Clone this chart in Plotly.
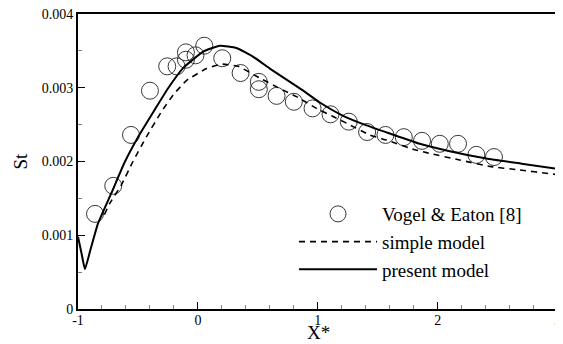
import plotly.graph_objects as go

# Experimental data (Vogel & Eaton [8])
exp_x = [-0.858, -0.706, -0.558, -0.40, -0.256, -0.178, -0.10, -0.10, -0.02, 0.053, 0.203,
         0.356, 0.508, 0.508, 0.656, 0.80, 0.956, 1.106, 1.258, 1.411, 1.564, 1.717,
         1.869, 2.017, 2.169, 2.322, 2.469]
exp_st = [0.00129, 0.00167, 0.00236, 0.00296, 0.00329, 0.00329, 0.00348, 0.00338, 0.00344, 0.00357, 0.00340,
          0.00320, 0.00308, 0.00298, 0.00289, 0.00281, 0.00272, 0.00264, 0.00254, 0.00240, 0.00236, 0.00233,
          0.00228, 0.00224, 0.00224, 0.00209, 0.00206]

# simple model
simple_x = [-0.78, -0.736, -0.639, -0.542, -0.431, -0.306, -0.208, -0.094, 0.072, 0.197, 0.336, 0.517,
            0.683, 0.822, 0.989, 1.128, 1.239, 1.433, 1.572, 1.808, 1.906, 2.183, 2.447, 2.656, 2.961, 3.0]
simple_st = [0.00128, 0.00143, 0.00168, 0.00200, 0.00233, 0.00267, 0.00290, 0.00310, 0.00326, 0.00332, 0.00329,
             0.00313, 0.00299, 0.00288, 0.00272, 0.00261, 0.00252, 0.00236, 0.00229, 0.00216, 0.00212, 0.00202,
             0.00193, 0.00189, 0.00183, 0.00182]

# present model
present_x = [-1.0, -0.97, -0.942, -0.90, -0.833, -0.722, -0.611, -0.50, -0.361, -0.25, -0.122, 0.044, 0.183,
             0.322, 0.461, 0.60, 0.739, 0.878, 1.017, 1.211, 1.406, 1.60, 1.85, 2.10, 2.406, 2.70, 3.0]
present_st = [0.00098, 0.00075, 0.00054, 0.00078, 0.00116, 0.00157, 0.00199, 0.00233, 0.00270, 0.00299, 0.00327,
              0.00349, 0.00357, 0.00354, 0.00342, 0.00326, 0.00311, 0.00296, 0.00280, 0.00262, 0.00249, 0.00238,
              0.00224, 0.00214, 0.00204, 0.00197, 0.00190]

x_ticks = [-1, 0, 1, 2, 3]
x_ticktext = ["-1", "0", "1", "2", "3"]
y_ticks = [0, 0.001, 0.002, 0.003, 0.004]
y_ticktext = ["0", "0.001", "0.002", "0.003", "0.004"]

FONT = "Times New Roman"

fig = go.Figure()
fig.add_trace(go.Scatter(x=exp_x, y=exp_st, mode="markers", name="Vogel & Eaton [8]",
                         marker=dict(symbol="circle-open", size=17, color="#222", line=dict(width=0.9))))
fig.add_trace(go.Scatter(x=simple_x, y=simple_st, mode="lines", name="simple model",
                         line=dict(color="black", width=1.6, dash="6px,5px", shape="spline", smoothing=0.4)))
fig.add_trace(go.Scatter(x=present_x, y=present_st, mode="lines", name="present model",
                         line=dict(color="black", width=2, shape="spline", smoothing=0.4)))

# page body has an 8px margin, so the figure is sized/offset to compensate
fig.update_layout(
    width=563, height=336,
    margin=dict(l=70, r=13, t=6, b=35, autoexpand=False),
    paper_bgcolor="white", plot_bgcolor="white",
    font=dict(family=FONT, color="black", size=14),
    legend=dict(x=0.45, y=0.227, xanchor="left", yanchor="middle", bgcolor="rgba(0,0,0,0)",
                font=dict(family=FONT, size=19), tracegroupgap=0, itemwidth=78),
    showlegend=True,
    annotations=[
        dict(text="X*", xref="paper", yref="paper", x=0.5, y=0, yshift=-23,
             xanchor="center", yanchor="middle", showarrow=False, font=dict(family=FONT, size=19)),
        dict(text="St", xref="paper", yref="paper", x=0, y=0.5, xshift=-58,
             xanchor="center", yanchor="middle", textangle=-90, showarrow=False,
             font=dict(family=FONT, size=19)),
    ],
)
fig.update_xaxes(range=[-1, 3.003], tickvals=x_ticks, ticktext=x_ticktext, showgrid=False, zeroline=False,
                 showline=True, linecolor="black", linewidth=2, mirror=True, automargin=False,
                 ticks="inside", ticklen=7, tickwidth=1, tickcolor="black", ticklabelstandoff=-3,
                 ticklabeloverflow="allow",
                 minor=dict(dtick=0.2, ticks="inside", ticklen=4, tickcolor="gray", showgrid=False),
                 tickfont=dict(size=14))
fig.update_yaxes(range=[0, 0.004], tickvals=y_ticks, ticktext=y_ticktext, showgrid=False, zeroline=False,
                 showline=True, linecolor="black", linewidth=2, mirror=True, automargin=False,
                 ticks="inside", ticklen=7, tickwidth=1, tickcolor="black", ticklabeloverflow="allow",
                 minor=dict(dtick=0.0005, ticks="inside", ticklen=4, tickcolor="gray", showgrid=False),
                 tickfont=dict(size=14))

fig.write_html("out.html")
